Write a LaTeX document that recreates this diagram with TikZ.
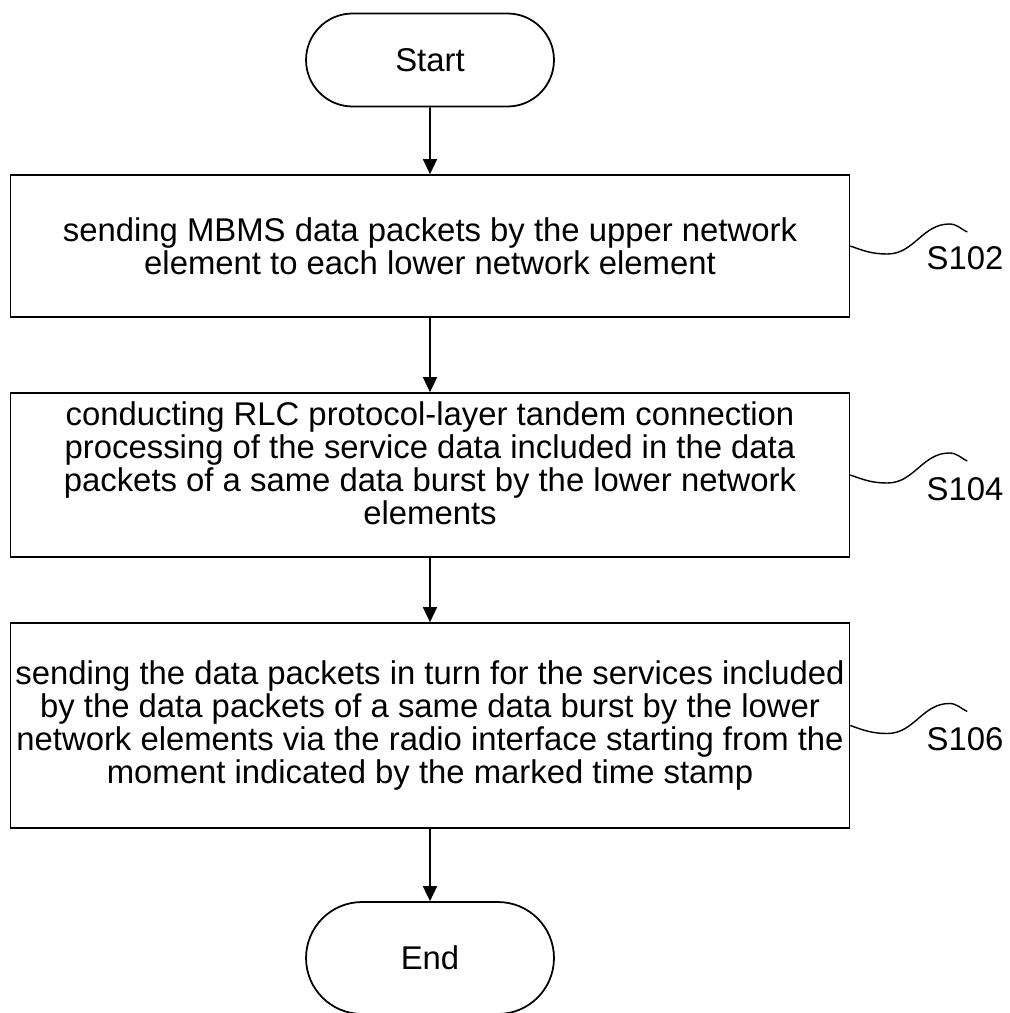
\documentclass[tikz,border=0pt]{standalone}
\usepackage{fontspec}
\setmainfont{Liberation Sans}
\usetikzlibrary{shapes.misc,arrows.meta}
\begin{document}
\begin{tikzpicture}[>={Triangle[width=0.28cm,length=0.3cm]},x=0.02cm,y=0.02cm,line width=1pt,
    font=\fontsize{18.7}{18.8}\selectfont,
    term/.style={draw,rounded rectangle,minimum width=4.96cm,inner sep=0pt},
    stepbox/.style={draw,rectangle,minimum width=16.78cm,inner sep=0pt,align=center},
    tag/.style={inner sep=0pt}]
  \useasboundingbox (0,0) rectangle (1009,-1013);
  \node[term,minimum height=1.86cm] (start) at (430,-60) {Start};
  \node[stepbox,minimum height=2.84cm] (s1) at (430,-246)
    {sending MBMS data packets by the upper network\\element to each lower network element};
  \node[stepbox,minimum height=3.28cm,text depth=0.48cm] (s2) at (430,-475)
    {conducting RLC protocol-layer tandem connection\\processing of the service data included in the data\\packets of a same data burst by the lower network\\elements};
  \node[stepbox,minimum height=4.1cm] (s3) at (430,-725.5)
    {sending the data packets in turn for the services included\\by the data packets of a same data burst by the lower\\network elements via the radio interface starting from the\\moment indicated by the marked time stamp};
  \node[term,minimum height=2.24cm] (end) at (430,-958) {End};
  \draw[->] (start) -- (s1);
  \draw[->] (s1) -- (s2);
  \draw[->] (s2) -- (s3);
  \draw[->] (s3) -- (end);
  % step labels
  \foreach \b/\t/\y in {s1/S102/-258,s2/S104/-489,s3/S106/-739} {
    \draw[line width=0.8pt] (\b.east) to[out=-20,in=180] ++(37,-8) to[out=0,in=180] ++(62,30) to[out=0,in=155] ++(18,-8);
    \node[tag] (\t) at (965,\y) {\t};
  }
\end{tikzpicture}
\end{document}
